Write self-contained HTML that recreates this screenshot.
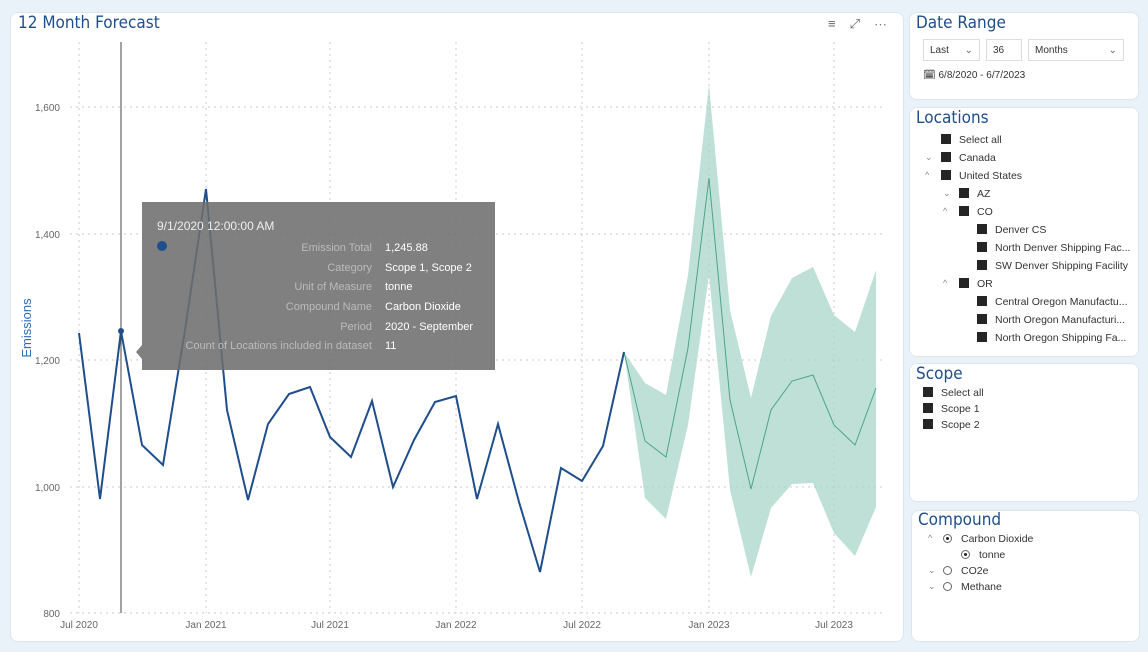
<!DOCTYPE html>
<html><head><meta charset="utf-8"><style>
body{margin:0;width:1148px;height:652px;background:#e9f2f8;font-family:"Liberation Sans",sans-serif;position:relative;overflow:hidden}
.p{position:absolute;background:#fff;border-radius:8px;border:1px solid #dbe7f0}
.t{position:absolute;color:#1f4e8c;font-size:17px;font-family:"DejaVu Sans Condensed","Liberation Sans Narrow",sans-serif}
.it{position:absolute;font-size:10.5px;color:#333;white-space:nowrap}
.cb{display:inline-block;width:10px;height:10px;background:#252525;vertical-align:-1px;margin-right:8px}
.ch{position:absolute;font-size:9px;color:#888}
.rd{display:inline-block;width:7px;height:7px;border:1px solid #666;border-radius:50%;vertical-align:-1px;margin-right:9px;position:relative}
.sel{position:absolute;border:1px solid #ddd;font-size:10px;color:#333;height:22px;line-height:22px;padding-left:6px;box-sizing:border-box}
</style></head><body>
<div class="p" style="left:10px;top:12px;width:892px;height:628px"></div>
<div class="t" style="left:18px;top:13px">12 Month Forecast</div>
<div style="position:absolute;left:828px;top:16px;color:#666;font-size:13px;letter-spacing:14px">≡⤢⋯</div>
<svg width="1148" height="652" style="position:absolute;left:0;top:0">
<g stroke="#c8c8c8" stroke-dasharray="2,4" stroke-width="1">
<line x1="70" y1="107" x2="882" y2="107"/><line x1="70" y1="234" x2="882" y2="234"/><line x1="70" y1="360" x2="882" y2="360"/><line x1="70" y1="487" x2="882" y2="487"/><line x1="70" y1="613" x2="882" y2="613"/>
<line x1="79" y1="42" x2="79" y2="613"/><line x1="206" y1="42" x2="206" y2="613"/><line x1="330" y1="42" x2="330" y2="613"/><line x1="456" y1="42" x2="456" y2="613"/><line x1="582" y1="42" x2="582" y2="613"/><line x1="709" y1="42" x2="709" y2="613"/><line x1="834" y1="42" x2="834" y2="613"/>
</g>
<g font-size="10" fill="#666" text-anchor="end"><text x="60" y="111">1,600</text><text x="60" y="238">1,400</text><text x="60" y="364">1,200</text><text x="60" y="491">1,000</text><text x="60" y="617">800</text></g>
<g font-size="10" fill="#666" text-anchor="middle"><text x="79" y="628">Jul 2020</text><text x="206" y="628">Jan 2021</text><text x="330" y="628">Jul 2021</text><text x="456" y="628">Jan 2022</text><text x="582" y="628">Jul 2022</text><text x="709" y="628">Jan 2023</text><text x="834" y="628">Jul 2023</text></g>
<text x="31" y="328" font-size="13" fill="#2f6db5" transform="rotate(-90 31 328)" text-anchor="middle">Emissions</text>
<polygon fill="#a9d6c9" fill-opacity="0.75" points="624,352 645,383 666,395 688,275 709,85 730,310 751,398 771,316 792,278 813,267 834,315 855,332 876,270 876,507 855,556 834,533 813,483 792,484 771,508 751,577 730,490 709,275 688,425 666,519 645,498 624,352"/>
<polyline fill="none" stroke="#4aa58a" stroke-width="1" points="624,352 645,441 666,457 688,348 709,178 730,400 751,489 771,410 792,381 813,375 834,425 855,445 876,388"/>
<polyline fill="none" stroke="#1f4e8c" stroke-width="2" points="79,333 100,499 121,331 142,445 163,465 185,330 206,189 227,410 248,500 268,424 289,394 310,387 330,437 351,457 372,401 393,487 414,440 435,402 456,396 477,499 498,424 519,502 540,572 561,468 582,481 603,446 624,352"/>
<line x1="121" y1="42" x2="121" y2="613" stroke="#444" stroke-width="1"/>
<circle cx="121" cy="331" r="3" fill="#1f4e8c"/>
<rect x="142" y="202" width="353" height="168" fill="#6e6e6e" fill-opacity="0.88"/>
<polygon points="142,345 136,352 142,359" fill="#6e6e6e" fill-opacity="0.88"/>
<text x="157" y="230" font-size="12" fill="#eee">9/1/2020 12:00:00 AM</text>
<circle cx="162" cy="246" r="5" fill="#1f4e8c"/>
<g font-size="11" fill="#bbb" text-anchor="end"><text x="372" y="251">Emission Total</text><text x="372" y="271">Category</text><text x="372" y="290">Unit of Measure</text><text x="372" y="310">Compound Name</text><text x="372" y="330">Period</text><text x="372" y="349">Count of Locations included in dataset</text></g>
<g font-size="11" fill="#fff"><text x="385" y="251">1,245.88</text><text x="385" y="271">Scope 1, Scope 2</text><text x="385" y="290">tonne</text><text x="385" y="310">Carbon Dioxide</text><text x="385" y="330">2020 - September</text><text x="385" y="349">11</text></g>
</svg>
<div class="p" style="left:909px;top:12px;width:228px;height:86px"></div>
<div class="t" style="left:916px;top:13px">Date Range</div>
<div class="sel" style="left:923px;top:39px;width:57px">Last<span style="position:absolute;right:6px;color:#666">⌄</span></div>
<div class="sel" style="left:986px;top:39px;width:36px">36</div>
<div class="sel" style="left:1028px;top:39px;width:96px">Months<span style="position:absolute;right:6px;color:#666">⌄</span></div>
<div class="it" style="left:923px;top:70px;font-size:10px">🗓 6/8/2020 - 6/7/2023</div>
<div class="p" style="left:909px;top:107px;width:228px;height:248px"></div>
<div class="t" style="left:916px;top:108px">Locations</div>
<div class="it" style="left:941px;top:134px"><span class="cb"></span>Select all</div>
<div class="ch" style="left:925px;top:152px">⌄</div><div class="it" style="left:941px;top:152px"><span class="cb"></span>Canada</div>
<div class="ch" style="left:925px;top:170px">^</div><div class="it" style="left:941px;top:170px"><span class="cb"></span>United States</div>
<div class="ch" style="left:943px;top:188px">⌄</div><div class="it" style="left:959px;top:188px"><span class="cb"></span>AZ</div>
<div class="ch" style="left:943px;top:206px">^</div><div class="it" style="left:959px;top:206px"><span class="cb"></span>CO</div>
<div class="it" style="left:977px;top:224px"><span class="cb"></span>Denver CS</div>
<div class="it" style="left:977px;top:242px"><span class="cb"></span>North Denver Shipping Fac...</div>
<div class="it" style="left:977px;top:260px"><span class="cb"></span>SW Denver Shipping Facility</div>
<div class="ch" style="left:943px;top:278px">^</div><div class="it" style="left:959px;top:278px"><span class="cb"></span>OR</div>
<div class="it" style="left:977px;top:296px"><span class="cb"></span>Central Oregon Manufactu...</div>
<div class="it" style="left:977px;top:314px"><span class="cb"></span>North Oregon Manufacturi...</div>
<div class="it" style="left:977px;top:332px"><span class="cb"></span>North Oregon Shipping Fa...</div>
<div class="p" style="left:909px;top:363px;width:228px;height:137px"></div>
<div class="t" style="left:916px;top:364px">Scope</div>
<div class="it" style="left:923px;top:387px"><span class="cb"></span>Select all</div>
<div class="it" style="left:923px;top:403px"><span class="cb"></span>Scope 1</div>
<div class="it" style="left:923px;top:419px"><span class="cb"></span>Scope 2</div>
<div class="p" style="left:911px;top:510px;width:227px;height:130px"></div>
<div class="t" style="left:918px;top:510px">Compound</div>
<div class="ch" style="left:928px;top:533px">^</div><div class="it" style="left:943px;top:533px"><span class="rd"><span style="position:absolute;left:2px;top:2px;width:3px;height:3px;background:#222;border-radius:50%"></span></span>Carbon Dioxide</div>
<div class="it" style="left:961px;top:549px"><span class="rd"><span style="position:absolute;left:2px;top:2px;width:3px;height:3px;background:#222;border-radius:50%"></span></span>tonne</div>
<div class="ch" style="left:928px;top:565px">⌄</div><div class="it" style="left:943px;top:565px"><span class="rd"></span>CO2e</div>
<div class="ch" style="left:928px;top:581px">⌄</div><div class="it" style="left:943px;top:581px"><span class="rd"></span>Methane</div>
</body></html>
